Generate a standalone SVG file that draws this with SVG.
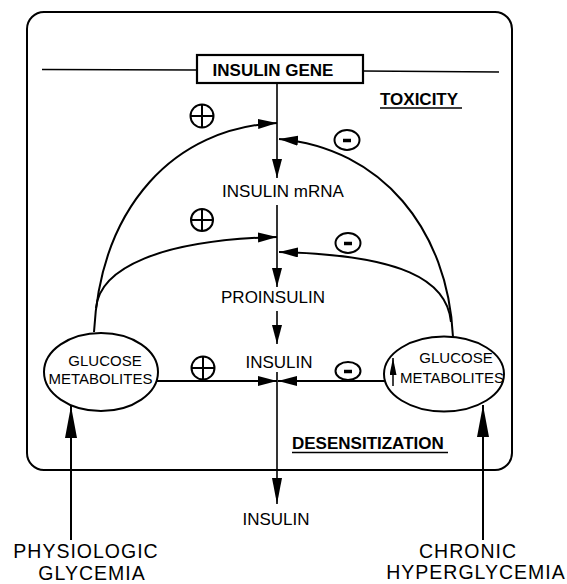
<svg xmlns="http://www.w3.org/2000/svg" width="567" height="584" viewBox="0 0 567 584">
<defs>
<style>
.ln{fill:none;stroke:#000;stroke-width:2}
.vl{fill:none;stroke:#000;stroke-width:1.6}
.t{font-family:"Liberation Sans",Arial,sans-serif;fill:#000}
.c{font-size:17px;text-anchor:middle}
.b{font-size:17px;font-weight:bold}
.g{font-size:15px;text-anchor:middle}
.o{font-size:19.5px;letter-spacing:1px;text-anchor:middle}
.sym{fill:none;stroke:#000;stroke-width:2}
</style>
<marker id="ah" markerUnits="userSpaceOnUse" markerWidth="20" markerHeight="12" refX="19" refY="5" orient="auto"><path d="M0,0 L19,5 L0,10 Z" fill="#000"/></marker>
<marker id="ahL" markerUnits="userSpaceOnUse" markerWidth="34" markerHeight="14" refX="32" refY="6" orient="auto"><path d="M0,0 L32,6 L0,12 Z" fill="#000"/></marker>
<marker id="ahM" markerUnits="userSpaceOnUse" markerWidth="28" markerHeight="12" refX="26" refY="5" orient="auto"><path d="M0,0 L26,5 L0,10 Z" fill="#000"/></marker>
<marker id="ahS" markerUnits="userSpaceOnUse" markerWidth="18" markerHeight="8" refX="17" refY="3.5" orient="auto"><path d="M0,0 L17,3.5 L0,7 Z" fill="#000"/></marker>
</defs>
<rect x="27" y="12" width="485" height="458" rx="17" ry="17" fill="none" stroke="#000" stroke-width="2"/>
<g id="gene-line">
<line x1="42" y1="69.5" x2="197" y2="70" class="vl"/>
<line x1="363" y1="71" x2="499" y2="72" class="vl"/>
</g>
<g id="insulin-gene">
<rect x="197" y="55" width="166" height="28" fill="#fff" stroke="#000" stroke-width="2.2"/>
<text x="273" y="76" class="t b" text-anchor="middle">INSULIN GENE</text>
</g>
<g id="toxicity">
<text x="380" y="105" class="t b">TOXICITY</text>
<line x1="380" y1="108" x2="462" y2="108" stroke="#000" stroke-width="1.5"/>
</g>
<g id="desensitization">
<text x="292" y="449" class="t b">DESENSITIZATION</text>
<line x1="292" y1="452.5" x2="448" y2="452.5" stroke="#000" stroke-width="1.5"/>
</g>
<g id="insulin-mrna"><text x="283" y="197" class="t c">INSULIN mRNA</text></g>
<g id="proinsulin"><text x="273" y="303" class="t c">PROINSULIN</text></g>
<g id="insulin"><text x="279" y="368" class="t c">INSULIN</text></g>
<g id="insulin-out"><text x="276" y="525" class="t c">INSULIN</text></g>
<g id="glucose-left">
<ellipse cx="101" cy="372" rx="57" ry="39" fill="none" stroke="#000" stroke-width="2"/>
<text x="105" y="366" class="t g">GLUCOSE</text>
<text x="100.5" y="384" class="t g">METABOLITES</text>
</g>
<g id="glucose-right">
<ellipse cx="444" cy="374" rx="60" ry="37.5" fill="none" stroke="#000" stroke-width="2"/>
<text x="456" y="363" class="t g">GLUCOSE</text>
<text x="452" y="383" class="t g">METABOLITES</text>
<line x1="393" y1="386" x2="393" y2="358" stroke="#000" stroke-width="1.5" marker-end="url(#ahS)"/>
</g>
<g id="physiologic">
<text x="86" y="558" class="t o">PHYSIOLOGIC</text>
<text x="92" y="580" class="t o">GLYCEMIA</text>
</g>
<g id="chronic">
<text x="468" y="558" class="t o">CHRONIC</text>
<text x="476" y="579" class="t o">HYPERGLYCEMIA</text>
</g>
<g id="signs">
<circle cx="202" cy="116" r="11.5" class="sym"/><path d="M190.5,116 H213.5 M202,104.5 V127.5" class="sym"/>
<circle cx="202" cy="220" r="11" class="sym"/><path d="M191,220 H213 M202,209 V231" class="sym"/>
<circle cx="203" cy="368" r="11.5" class="sym"/><path d="M191.5,368 H214.5 M203,356.5 V379.5" class="sym"/>
<ellipse cx="347" cy="140" rx="12.5" ry="10" class="sym"/><line x1="343" y1="140.5" x2="351" y2="140.5" stroke="#000" stroke-width="3.5"/>
<ellipse cx="348" cy="243" rx="12.5" ry="10" class="sym"/><line x1="344" y1="243.5" x2="352" y2="243.5" stroke="#000" stroke-width="3.5"/>
<ellipse cx="348" cy="371" rx="12.5" ry="9" class="sym"/><line x1="344" y1="371.5" x2="352" y2="371.5" stroke="#000" stroke-width="3.5"/>
</g>
<g id="connectors">
<line x1="277" y1="83" x2="277" y2="178" class="vl" marker-end="url(#ah)"/>
<line x1="277" y1="205" x2="277" y2="287" class="vl" marker-end="url(#ah)"/>
<line x1="277" y1="311" x2="277" y2="344" class="vl" marker-end="url(#ah)"/>
<line x1="277" y1="372" x2="277" y2="504" class="vl" marker-end="url(#ahM)"/>
<path d="M94,332 C101,205 175,128 277,123" class="ln" marker-end="url(#ah)"/>
<path d="M96,308 C100,268 160,240 277,237" class="ln" marker-end="url(#ah)"/>
<path d="M453,337 C448,230 382,148 279,139" class="ln" marker-end="url(#ah)"/>
<path d="M451,322 C447,280 402,255 279,252" class="ln" marker-end="url(#ah)"/>
<line x1="157" y1="381" x2="277" y2="381" class="ln" marker-end="url(#ah)"/>
<line x1="385" y1="381" x2="278" y2="381" class="ln" marker-end="url(#ah)"/>
<line x1="71" y1="540" x2="71" y2="406" class="ln" marker-end="url(#ahL)"/>
<line x1="483" y1="540" x2="483" y2="405" class="ln" marker-end="url(#ahL)"/>
</g>
</svg>
